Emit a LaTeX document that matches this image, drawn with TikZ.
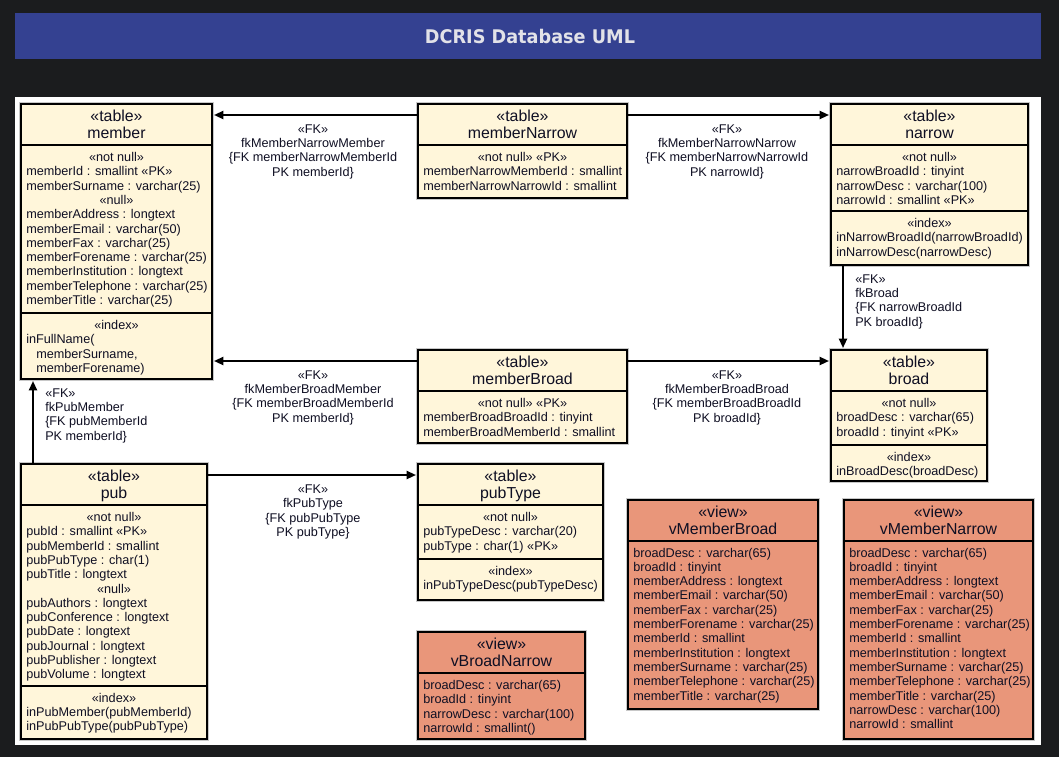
\documentclass[tikz,border=0pt]{standalone}
\usepackage{fontspec}
\setmainfont{Liberation Sans}
\newfontfamily\titlefont[FakeStretch=0.94]{DejaVu Sans}
\usetikzlibrary{fit,calc,arrows.meta}
\definecolor{bgdark}{RGB}{27,28,30}
\definecolor{banner}{RGB}{52,65,145}
\definecolor{titletxt}{RGB}{226,226,232}
\definecolor{tblfill}{RGB}{255,246,218}
\definecolor{viewfill}{RGB}{233,150,122}
\definecolor{txt}{RGB}{15,15,35}
\definecolor{halo}{RGB}{200,200,200}
\tikzset{
 box/.style={draw=black, line width=2.2pt, inner sep=0pt, outer sep=0pt, preaction={draw=halo, line width=3.7pt}},
 tbl/.style={box, fill=tblfill},
 vw/.style={box, fill=viewfill},
 divl/.style={draw=black, line width=2.2pt},
 row/.style={inner sep=0pt, font=\fontsize{9.5}{10.75}\selectfont, text=txt},
 hdr/.style={inner sep=0pt, font=\fontsize{11.9}{13}\selectfont, text=txt},
 fk/.style={draw=black, line width=1.5pt, shorten >=1.5pt, -{Triangle[length=7pt,width=6pt]}},
 fklabel/.style={inner sep=0pt, font=\fontsize{9.5}{10.75}\selectfont, text=txt},
}
\newcommand\sect[5]{%
  \foreach \ra/\rb [count=\i from 0] in {#5}{%
    \pgfmathsetmacro\yy{#4+\i*14.3+4.5}%
    \if\ra C\node[row, anchor=base] (#1-\i) at (#3,\yy) {\rb};%
    \else\node[row, anchor=base west] (#1-\i) at (#2,\yy) {\rb};\fi
  }}
\newcommand\boxhead[5]{%
  \node[hdr, anchor=base] (#1-st) at (#2,#3+18) {#4};
  \node[hdr, anchor=base] (#1-nm) at (#2,#3+35) {#5};}
\newcommand\divline[2]{\draw[divl] (#1.west |- 0,#2) -- (#1.east |- 0,#2);}
\begin{document}
\begin{tikzpicture}[x=0.75pt,y=-0.75pt]
\fill[bgdark] (0,0) rectangle (1059,757);
\useasboundingbox (0,0) rectangle (1059,757);
\fill[banner] (15,13) rectangle (1041,59);
\node[font=\titlefont\bfseries\fontsize{14.1}{16}\selectfont, text=titletxt] (title) at (530,36) {DCRIS Database UML};
\fill[white] (15,97) rectangle (1041,745);

% member
\node[tbl, fit={(21,104)(212,379)}] (member) {};
\boxhead{member}{116.5}{103}{«table»}{member}
\divline{member}{145}
\sect{memberb}{26}{116.5}{157}{C/«not null»,L/memberId : smallint «PK»,L/memberSurname : varchar(25),C/«null»,L/memberAddress : longtext,L/memberEmail : varchar(50),L/memberFax : varchar(25),L/memberForename : varchar(25),L/memberInstitution : longtext,L/memberTelephone : varchar(25),L/memberTitle : varchar(25)}
\divline{member}{313}
\sect{memberi}{26}{116.5}{325}{C/«index»,L/inFullName(,{L/\hspace*{7.5pt}memberSurname,},L/\hspace*{7.5pt}memberForename)}

% memberNarrow
\node[tbl, fit={(418,104)(627,198)}] (memberNarrow) {};
\boxhead{mn}{522.5}{103}{«table»}{memberNarrow}
\divline{memberNarrow}{145}
\sect{mnb}{423}{522.5}{157}{C/«not null» «PK»,L/memberNarrowMemberId : smallint,L/memberNarrowNarrowId : smallint}

% narrow
\node[tbl, fit={(831,104)(1028,265)}] (narrow) {};
\boxhead{na}{929.5}{103}{«table»}{narrow}
\divline{narrow}{145}
\sect{nab}{836}{929.5}{157}{C/«not null»,L/narrowBroadId : tinyint,L/narrowDesc : varchar(100),L/narrowId : smallint «PK»}
\divline{narrow}{211}
\sect{nai}{836}{929.5}{223}{C/«index»,L/inNarrowBroadId(narrowBroadId),L/inNarrowDesc(narrowDesc)}

% memberBroad
\node[tbl, fit={(418,350)(627,443)}] (memberBroad) {};
\boxhead{mb}{522.5}{349}{«table»}{memberBroad}
\divline{memberBroad}{391}
\sect{mbb}{423}{522.5}{403}{C/«not null» «PK»,L/memberBroadBroadId : tinyint,L/memberBroadMemberId : smallint}

% broad
\node[tbl, fit={(831,350)(987,481)}] (broad) {};
\boxhead{br}{909}{349}{«table»}{broad}
\divline{broad}{391}
\sect{brb}{836}{909}{403}{C/«not null»,L/broadDesc : varchar(65),L/broadId : tinyint «PK»}
\divline{broad}{445}
\sect{bri}{836}{909}{457}{C/«index»,L/inBroadDesc(broadDesc)}

% pub
\node[tbl, fit={(21,464)(207,739)}] (pub) {};
\boxhead{pu}{114}{463}{«table»}{pub}
\divline{pub}{505}
\sect{pub}{26}{114}{517}{C/«not null»,L/pubId : smallint «PK»,L/pubMemberId : smallint,L/pubPubType : char(1),L/pubTitle : longtext,C/«null»,L/pubAuthors : longtext,L/pubConference : longtext,L/pubDate : longtext,L/pubJournal : longtext,L/pubPublisher : longtext,L/pubVolume : longtext}
\divline{pub}{686}
\sect{pui}{26}{114}{697.5}{C/«index»,L/inPubMember(pubMemberId),L/inPubPubType(pubPubType)}

% pubType
\node[tbl, fit={(418,464)(603,600)}] (pubType) {};
\boxhead{pt}{510.5}{463}{«table»}{pubType}
\divline{pubType}{505}
\sect{ptb}{423}{510.5}{517}{C/«not null»,L/pubTypeDesc : varchar(20),L/pubType : char(1) «PK»}
\divline{pubType}{559}
\sect{pti}{423}{510.5}{571}{C/«index»,L/inPubTypeDesc(pubTypeDesc)}

% vBroadNarrow
\node[vw, fit={(418,632)(585,739)}] (vBroadNarrow) {};
\boxhead{vbn}{501.5}{631}{«view»}{vBroadNarrow}
\divline{vBroadNarrow}{673}
\sect{vbnb}{423}{501.5}{685}{L/broadDesc : varchar(65),L/broadId : tinyint,L/narrowDesc : varchar(100),L/narrowId : smallint()}

% vMemberBroad
\node[vw, fit={(628,500)(818,709)}] (vMemberBroad) {};
\boxhead{vmb}{723}{499}{«view»}{vMemberBroad}
\divline{vMemberBroad}{541}
\sect{vmbb}{633}{723}{552.5}{L/broadDesc : varchar(65),L/broadId : tinyint,L/memberAddress : longtext,L/memberEmail : varchar(50),L/memberFax : varchar(25),L/memberForename : varchar(25),L/memberId : smallint,L/memberInstitution : longtext,L/memberSurname : varchar(25),L/memberTelephone : varchar(25),L/memberTitle : varchar(25)}

% vMemberNarrow
\node[vw, fit={(844,500)(1033,739)}] (vMemberNarrow) {};
\boxhead{vmn}{938.5}{499}{«view»}{vMemberNarrow}
\divline{vMemberNarrow}{541}
\sect{vmnb}{849}{938.5}{552.5}{L/broadDesc : varchar(65),L/broadId : tinyint,L/memberAddress : longtext,L/memberEmail : varchar(50),L/memberFax : varchar(25),L/memberForename : varchar(25),L/memberId : smallint,L/memberInstitution : longtext,L/memberSurname : varchar(25),L/memberTelephone : varchar(25),L/memberTitle : varchar(25),L/narrowDesc : varchar(100),L/narrowId : smallint}

% connectors
\coordinate (mnL) at ($(memberNarrow.north west)+(0,11)$);
\coordinate (mnR) at ($(memberNarrow.north east)+(0,11)$);
\coordinate (mbL) at ($(memberBroad.north west)+(0,11)$);
\coordinate (mbR) at ($(memberBroad.north east)+(0,11)$);
\coordinate (naD) at ($(narrow.south west)+(12,0)$);
\coordinate (puU) at ($(pub.north west)+(12,0)$);
\coordinate (puR) at ($(pub.north east)+(0,11)$);
\draw[fk] (mnL) -- (mnL -| member.east);
\draw[fk] (mnR) -- (mnR -| narrow.west);
\draw[fk] (naD) -- (naD |- broad.north);
\draw[fk] (mbL) -- (mbL -| member.east);
\draw[fk] (mbR) -- (mbR -| broad.west);
\draw[fk] (puU) -- (puU |- member.south);
\draw[fk] (puR) -- (puR -| pubType.west);

% labels
\node[fklabel, align=center] (lMNM) at (313,151.5) {«FK»\\fkMemberNarrowMember\\\{FK memberNarrowMemberId\\PK memberId\}};
\node[fklabel, align=center] (lMNN) at (727,151.5) {«FK»\\fkMemberNarrowNarrow\\\{FK memberNarrowNarrowId\\PK narrowId\}};
\node[fklabel, align=left, anchor=west] (lBR) at (855,301.5) {«FK»\\fkBroad\\\{FK narrowBroadId\\PK broadId\}};
\node[fklabel, align=center] (lMBM) at (313,397.5) {«FK»\\fkMemberBroadMember\\\{FK memberBroadMemberId\\PK memberId\}};
\node[fklabel, align=center] (lMBB) at (727,397.5) {«FK»\\fkMemberBroadBroad\\\{FK memberBroadBroadId\\PK broadId\}};
\node[fklabel, align=left, anchor=west] (lPM) at (45,415.5) {«FK»\\fkPubMember\\\{FK pubMemberId\\PK memberId\}};
\node[fklabel, align=center] (lPT) at (313,512) {«FK»\\fkPubType\\\{FK pubPubType\\PK pubType\}};
\end{tikzpicture}
\end{document}
